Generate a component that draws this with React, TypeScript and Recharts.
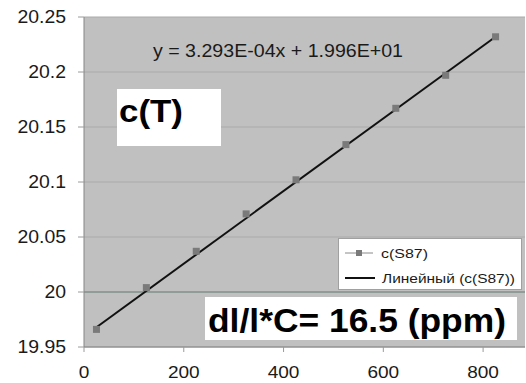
import React from 'react';
import {
  ComposedChart,
  Line,
  XAxis,
  YAxis,
  CartesianGrid,
  ReferenceLine,
  Legend,
  Customized,
} from 'recharts';

// ---- data ----
const temperatures = [25, 125, 225, 325, 425, 525, 625, 725, 825];
const cValues = [19.966, 20.004, 20.037, 20.071, 20.102, 20.134, 20.167, 20.197, 20.232];
const trendX = [25, 825];
const trendY = [19.968, 20.232];
const xTicks = [0, 200, 400, 600, 800];
const yTicks = [19.95, 20, 20.05, 20.1, 20.15, 20.2, 20.25];
const seriesName = 'c(S87)';
const trendName = 'Линейный (c(S87))';
const equationText = 'y = 3.293E-04x + 1.996E+01';
const titleText = 'c(T)';
const resultText = 'dl/l*C= 16.5 (ppm)';

const seriesData = temperatures.map((x, i) => ({ x, c: cValues[i] }));
const trendData = trendX.map((x, i) => ({ x, t: trendY[i] }));

const FONT = '"Liberation Sans", Arial, Helvetica, sans-serif';
const W = 526;
const H = 383;

const stretch = (x: number, k: number) => `translate(${x} 0) scale(${k} 1) translate(${-x} 0)`;

const YTick = (props: any) => {
  const { x, y, payload } = props;
  return (
    <text
      x={x}
      y={y}
      dy="0.355em"
      textAnchor="end"
      fontSize={18}
      fill="#1a1a1a"
      fontFamily={FONT}
      transform={stretch(x, 1.08)}
    >
      {String(payload.value)}
    </text>
  );
};

const XTick = (props: any) => {
  const { x, y, payload } = props;
  return (
    <text
      x={x}
      y={y}
      dy="0.71em"
      textAnchor="middle"
      fontSize={17}
      fill="#1a1a1a"
      fontFamily={FONT}
      transform={stretch(x, 1.12)}
    >
      {String(payload.value)}
    </text>
  );
};

const SquareDot = (props: any) => {
  const { cx, cy, index } = props;
  if (cx == null || cy == null) return null;
  return <rect key={`d${index}`} x={cx - 3.5} y={cy - 3.5} width={7} height={7} fill="#7a7a7a" />;
};

const LegendBox = () => (
  <svg width={184} height={52} style={{ display: 'block' }}>
    <rect x={0.5} y={0.5} width={183} height={51} fill="#ffffff" stroke="#a0a0a0" />
    <line x1={7} x2={35} y1={15} y2={15} stroke="#8a8a8a" strokeWidth={1} />
    <rect x={18} y={12} width={6} height={6} fill="#7a7a7a" />
    <text x={43} y={20} fontSize={13} fontFamily={FONT} fill="#1a1a1a" textLength={47} lengthAdjust="spacingAndGlyphs">
      {seriesName}
    </text>
    <line x1={7} x2={37} y1={40} y2={40} stroke="#111111" strokeWidth={2} />
    <text x={44} y={45} fontSize={13} fontFamily={FONT} fill="#1a1a1a" textLength={133} lengthAdjust="spacingAndGlyphs">
      {trendName}
    </text>
  </svg>
);

const Annotations = () => (
  <g>
    <text x={153} y={57} fontSize={18} fontFamily={FONT} fill="#1a1a1a" textLength={250} lengthAdjust="spacingAndGlyphs">
      {equationText}
    </text>
    <rect x={117} y={89} width={104} height={57} fill="#ffffff" />
    <text x={119} y={122} fontSize={32} fontWeight="bold" fontFamily={FONT} fill="#000000" textLength={64} lengthAdjust="spacingAndGlyphs">
      {titleText}
    </text>
    <rect x={205} y={297} width={312} height={43} fill="#ffffff" />
    <text x={208} y={332} fontSize={33} fontWeight="bold" fontFamily={FONT} fill="#000000" textLength={298} lengthAdjust="spacingAndGlyphs">
      {resultText}
    </text>
  </g>
);

export default function App() {
  return (
    <div style={{ position: 'absolute', left: 0, top: 0, width: W, height: H, overflow: 'hidden', background: '#ffffff' }}>
      <ComposedChart width={W} height={H} margin={{ top: 17, right: 1, bottom: 0, left: 0 }}>
        <CartesianGrid horizontal vertical={false} stroke="#aaaaaa" fill="#c0c0c0" />
        <XAxis
          type="number"
          dataKey="x"
          domain={[0, 884]}
          ticks={xTicks}
          height={36}
          tickSize={5}
          tickMargin={14}
          axisLine={{ stroke: '#858585' }}
          tickLine={{ stroke: '#9a9a9a' }}
          tick={<XTick />}
          allowDataOverflow
        />
        <YAxis
          type="number"
          domain={[19.95, 20.25]}
          ticks={yTicks}
          width={84}
          tickSize={6}
          tickMargin={12}
          axisLine={{ stroke: '#858585' }}
          tickLine={{ stroke: '#9a9a9a' }}
          tick={<YTick />}
          allowDataOverflow
        />
        <ReferenceLine y={20} stroke="#84958e" strokeWidth={1.5} />
        <Line
          data={seriesData}
          dataKey="c"
          name={seriesName}
          stroke="none"
          strokeWidth={0}
          dot={<SquareDot />}
          activeDot={false}
          isAnimationActive={false}
        />
        <Line
          data={trendData}
          dataKey="t"
          name={trendName}
          stroke="#111111"
          strokeWidth={2}
          dot={false}
          activeDot={false}
          isAnimationActive={false}
        />
        <Customized component={Annotations} />
        <Legend
          layout="vertical"
          align="center"
          verticalAlign="middle"
          wrapperStyle={{ left: 338, top: 238, width: 184, height: 52, right: 'auto', bottom: 'auto' }}
          content={() => <LegendBox />}
        />
      </ComposedChart>
    </div>
  );
}
